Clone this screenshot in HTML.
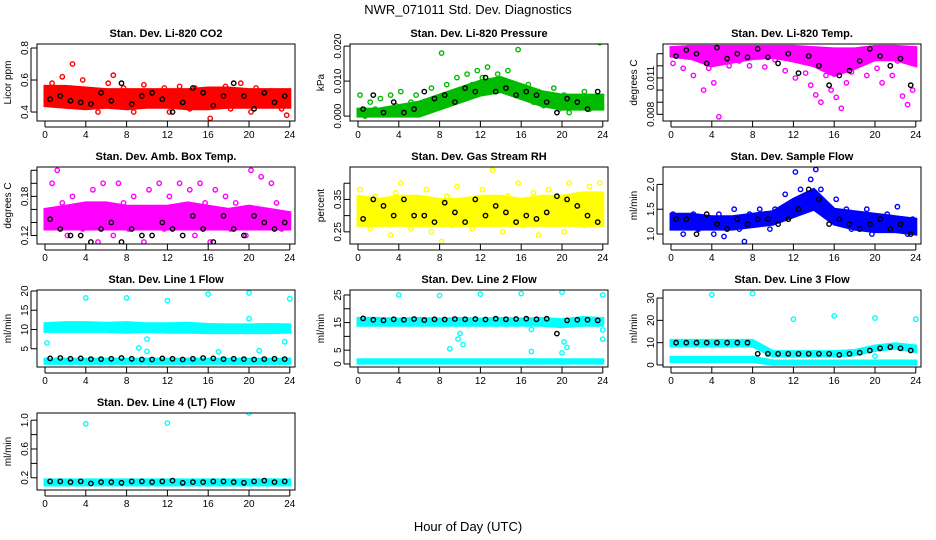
<!DOCTYPE html>
<html><head><meta charset="utf-8"><style>
body{margin:0;background:#fff;}
svg{display:block;font-family:"Liberation Sans",sans-serif;}
</style></head><body>
<svg id="chart" width="936" height="540" viewBox="0 0 936 540">
<rect width="936" height="540" fill="#fff"/>
<text x="468" y="14" text-anchor="middle" font-size="13">NWR_071011  Std. Dev. Diagnostics</text>
<text x="468" y="531" text-anchor="middle" font-size="13">Hour of Day (UTC)</text>
</svg>
<script>
const hourTicks = [0,4,8,12,16,20,24];

const co2Vals = [0.55,0.58,0.84,0.62,0.48,0.7,0.45,0.6,0.5,0.47,0.4,0.52,0.58,0.63,0.45,0.55,0.5,0.4,0.48,0.57,0.44,0.52,0.46,0.55,0.4,0.5,0.56,0.46,0.42,0.55,0.52,0.47,0.36,0.53,0.45,0.56,0.42,0.5,0.58,0.44,0.4,0.55,0.48,0.44,0.53,0.5,0.42,0.38];
const co2Black = [0.48,0.5,0.47,0.46,0.45,0.52,0.47,0.58,0.45,0.5,0.52,0.48,0.4,0.46,0.55,0.52,0.44,0.5,0.58,0.5,0.42,0.52,0.46,0.5];
const co2Lo = [0.44,0.43,0.42,0.43,0.42,0.43,0.43,0.42,0.42,0.43,0.43,0.43,0.43];
const co2Hi = [0.56,0.56,0.55,0.54,0.54,0.54,0.54,0.54,0.55,0.55,0.54,0.54,0.54];

const presVals = [0.006,0,0.004,0.002,0.005,0.001,0.006,0.003,0.007,0.002,0.004,0.006,0.001,0.003,0.008,0.004,0.018,0.009,0.005,0.011,0.007,0.012,0.009,0.013,0.011,0.014,0.008,0.012,0.010,0.013,0.007,0.019,0.006,0.009,0.004,0.007,0.003,0.005,0.008,0.002,0.006,0.001,0.005,0.004,0.007,0.002,0.005,0.021];
const presBlack = [0.002,0.006,0.001,0.004,0.001,0.002,0.007,0.005,0.006,0.004,0.008,0.007,0.011,0.007,0.008,0.006,0.007,0.006,0.004,0.001,0.005,0.004,0.002,0.007];
const presLo = [0,0,0,0,0.002,0.004,0.006,0.007,0.005,0.003,0.002,0.002,0.002];
const presHi = [0.002,0.002,0.003,0.004,0.006,0.008,0.010,0.011,0.009,0.007,0.006,0.006,0.006];

const tempVals = [0.0122,0.0132,0.0118,0.0135,0.0112,0.0128,0.0100,0.0118,0.0106,0.0078,0.0127,0.0120,0.0132,0.0124,0.0130,0.0120,0.0128,0.0133,0.0119,0.0130,0.0125,0.0133,0.0116,0.0128,0.0110,0.0125,0.0114,0.0104,0.0096,0.0090,0.0112,0.0100,0.0094,0.0085,0.0106,0.0115,0.0125,0.0132,0.0112,0.0130,0.0118,0.0106,0.0128,0.0112,0.0124,0.0095,0.0088,0.0100];
const tempBlack = [0.0128,0.0133,0.0130,0.0122,0.0135,0.0126,0.0130,0.0127,0.0134,0.0127,0.0122,0.0130,0.0114,0.0128,0.0120,0.0104,0.0112,0.0116,0.0124,0.0134,0.0128,0.0120,0.0126,0.0104];
const tempLo = [0.0128,0.0126,0.0120,0.0123,0.0126,0.0127,0.0124,0.0120,0.0112,0.0118,0.0125,0.0125,0.0120];
const tempHi = [0.0135,0.0136,0.0136,0.0136,0.0136,0.0136,0.0136,0.0135,0.0134,0.0134,0.0136,0.0136,0.0135];

const boxVals = [0.14,0.2,0.22,0.17,0.12,0.18,0.15,0.13,0.16,0.19,0.11,0.2,0.15,0.12,0.2,0.17,0.13,0.18,0.16,0.11,0.19,0.15,0.2,0.13,0.18,0.16,0.2,0.14,0.19,0.12,0.2,0.17,0.11,0.19,0.15,0.18,0.13,0.17,0.15,0.12,0.22,0.16,0.21,0.14,0.2,0.17,0.13,0.15];
const boxBlack = [0.145,0.13,0.12,0.12,0.11,0.13,0.14,0.11,0.13,0.12,0.12,0.14,0.13,0.12,0.15,0.13,0.11,0.15,0.13,0.12,0.15,0.14,0.13,0.14];
const boxLo = [0.13,0.13,0.13,0.13,0.13,0.13,0.13,0.13,0.13,0.13,0.13,0.13,0.13];
const boxHi = [0.16,0.165,0.17,0.17,0.165,0.165,0.165,0.17,0.165,0.16,0.165,0.16,0.155];

const rhVals = [0.38,0.3,0.26,0.36,0.28,0.33,0.24,0.37,0.4,0.3,0.26,0.35,0.29,0.38,0.25,0.32,0.22,0.36,0.27,0.39,0.3,0.34,0.26,0.33,0.38,0.28,0.44,0.31,0.25,0.36,0.29,0.4,0.27,0.33,0.37,0.24,0.31,0.38,0.28,0.35,0.25,0.4,0.3,0.34,0.27,0.39,0.33,0.4];
const rhBlack = [0.29,0.35,0.33,0.3,0.35,0.3,0.3,0.28,0.34,0.31,0.28,0.35,0.3,0.33,0.31,0.28,0.3,0.29,0.31,0.36,0.35,0.33,0.3,0.28];
const rhLo = [0.27,0.27,0.27,0.27,0.27,0.27,0.27,0.27,0.27,0.27,0.27,0.27,0.27];
const rhHi = [0.36,0.35,0.36,0.36,0.35,0.35,0.36,0.36,0.35,0.36,0.36,0.37,0.37];

const flowVals = [1.4,1.2,1.0,1.3,1.4,1.1,1.3,1.2,1.0,1.4,0.95,1.3,1.5,1.1,0.85,1.4,1.2,1.5,1.3,1.1,1.5,1.4,1.8,1.6,2.25,1.9,1.7,2.1,2.3,1.9,1.6,1.4,1.7,1.3,1.5,1.1,1.4,1.2,1.5,1.0,1.3,1.1,1.4,1.2,1.55,1.1,1.0,1.3];
const flowBlack = [1.3,1.3,1.0,1.4,1.2,1.1,1.3,1.2,1.3,1.3,1.2,1.3,1.5,1.9,1.7,1.2,1.3,1.2,1.1,1.2,1.3,1.1,1.2,1.0];
const flowLo = [1.1,1.1,1.1,1.1,1.15,1.2,1.35,1.5,1.2,1.1,1.05,1.05,1.0];
const flowHi = [1.4,1.4,1.35,1.35,1.4,1.45,1.7,1.9,1.5,1.45,1.4,1.35,1.3];

const l1Lo = [9.5,9.5,9.5,9.5,9.3,9.5,9.3,9.3,9.2,9.2,9.2,9.2,9.3];
const l1Hi = [11.5,11.8,11.8,11.6,11.8,11.5,11.5,11.6,11.3,11.2,11.2,11.3,11.2];
const l1Lo2 = [1.2,1.2,1.2,1.2,1.2,1.2,1.2,1.2,1.2,1.2,1.2,1.2,1.2];
const l1Hi2 = [2.3,2.3,2.3,2.3,2.3,2.3,2.3,2.3,2.3,2.3,2.3,2.3,2.3];
const l1Black = [2.5,2.6,2.4,2.5,2.3,2.3,2.4,2.6,2.4,2.2,2.2,2.5,2.4,2.2,2.4,2.6,2.5,2.3,2.4,2.3,2.2,2.3,2.4,2.3];
const l1OutX = [4,8,12,16,20,24,0.2,9.2,10,17,21,23.5,20,10];
const l1OutY = [18.2,18.2,17.5,19.2,19.5,18,6.5,5.2,4.3,4.2,4.5,6.8,12.8,7.5];

const l2Lo = [14,14,14,14,14,14,14,14,14,14,13.5,14,14];
const l2Hi = [16.5,16.5,16.3,16.5,16.3,16.5,16.3,16.5,16.3,16.5,16,16.8,16.5];
const l2Lo2 = [0.3,0.3,0.3,0.3,0.3,0.3,0.3,0.3,0.3,0.3,0.3,0.3,0.3];
const l2Hi2 = [1.5,1.5,1.5,1.5,1.5,1.5,1.5,1.5,1.5,1.5,1.5,1.5,1.5];
const l2Black = [16.5,16,15.8,16.2,16,16.3,15.9,16.2,16.1,16.3,16.2,16.3,16.1,16.4,16.2,16.3,16.4,16.2,16.4,11,15.8,16,16,15.8];
const l2OutX = [4,8,12,16,20,24,9,9.8,10,10.3,17,17,20.2,20.5,24,20,24];
const l2OutY = [25,24.8,25.3,25.5,26,25,5.5,9,11,7,4.5,12.5,8,6,12.3,4,9];

const l3Lo = [8.5,8.5,8.5,8.5,8.5,4,4,4,4,4.5,6.5,7.5,6];
const l3Hi = [11,11,11,11,11,6,6,6,6,6.5,8.5,9.5,8.5];
const l3Lo2 = [1.5,1.5,1.5,1.5,1.5,0.3,0.3,0.3,0.3,0.3,0.3,0.3,0.3];
const l3Hi2 = [3.5,3.5,3.5,3.5,3.5,1.8,1.8,1.8,1.8,1.8,1.8,1.8,1.8];
const l3Black = [10,10,10,10,10,10,10,10,5,5,5,5,5,5,5,5,4.5,5,5.5,6.5,7.5,8,7.5,6.5];
const l3OutX = [4,8,12,16,20,24,20];
const l3OutY = [31.5,32,20.5,22,21,20.5,4];

const l4Lo = [0.1,0.1,0.1,0.1,0.1,0.1,0.1,0.1,0.1,0.1,0.1,0.1,0.1];
const l4Hi = [0.17,0.17,0.17,0.17,0.17,0.17,0.17,0.17,0.17,0.17,0.17,0.17,0.17];
const l4Black = [0.15,0.15,0.14,0.15,0.12,0.14,0.14,0.13,0.15,0.15,0.14,0.15,0.16,0.13,0.14,0.14,0.15,0.15,0.14,0.13,0.15,0.16,0.14,0.15];
const l4OutX = [4,12,20];
const l4OutY = [0.95,0.96,1.1];

const panels = [
 {name:'co2',title:'Stan. Dev. Li-820 CO2',yl:'Licor ppm',col:'#ff0000',r:0,c:0,top:0.825,bot:0.344,ticks:[0.4,0.6,0.8],labs:['0.4','0.6','0.8'],vals:co2Vals,black:co2Black,lo:co2Lo,hi:co2Hi},
 {name:'pressure',title:'Stan. Dev. Li-820 Pressure',yl:'kPa',col:'#00bb00',r:0,c:1,top:0.0206,bot:-0.0014,ticks:[0,0.01,0.02],labs:['0.000','0.010','0.020'],vals:presVals,black:presBlack,lo:presLo,hi:presHi},
 {name:'temp',title:'Stan. Dev. Li-820 Temp.',yl:'degrees C',col:'#ff00ff',r:0,c:2,top:0.0138,bot:0.00745,ticks:[0.008,0.009,0.010,0.011,0.012,0.013],labs:['0.008','','','0.011','',''],vals:tempVals,black:tempBlack,lo:tempLo,hi:tempHi},
 {name:'box-temp',title:'Stan. Dev. Amb. Box Temp.',yl:'degrees C',col:'#ff00ff',r:1,c:0,top:0.225,bot:0.107,ticks:[0.12,0.14,0.16,0.18,0.20,0.22],labs:['0.12','','','0.18','',''],vals:boxVals,black:boxBlack,lo:boxLo,hi:boxHi},
 {name:'rh',title:'Stan. Dev. Gas Stream RH',yl:'percent',col:'#ffff00',r:1,c:1,top:0.45,bot:0.2125,ticks:[0.25,0.30,0.35,0.40],labs:['0.25','','0.35',''],vals:rhVals,black:rhBlack,lo:rhLo,hi:rhHi},
 {name:'sample-flow',title:'Stan. Dev. Sample Flow',yl:'ml/min',col:'#0000ff',r:1,c:2,top:2.35,bot:0.8,ticks:[1.0,1.5,2.0],labs:['1.0','1.5','2.0'],vals:flowVals,black:flowBlack,lo:flowLo,hi:flowHi},
 {name:'line1',title:'Stan. Dev. Line 1 Flow',yl:'ml/min',col:'#00ffff',r:2,c:0,top:20.26,bot:0.26,ticks:[5,10,15,20],labs:['5','10','15','20'],black:l1Black,lo:l1Lo,hi:l1Hi,lo2:l1Lo2,hi2:l1Hi2,ox:l1OutX,oy:l1OutY},
 {name:'line2',title:'Stan. Dev. Line 2 Flow',yl:'ml/min',col:'#00ffff',r:2,c:1,top:26.8,bot:-1.1,ticks:[0,5,10,15,20,25],labs:['0','5','','15','','25'],black:l2Black,lo:l2Lo,hi:l2Hi,lo2:l2Lo2,hi2:l2Hi2,ox:l2OutX,oy:l2OutY},
 {name:'line3',title:'Stan. Dev. Line 3 Flow',yl:'ml/min',col:'#00ffff',r:2,c:2,top:33.6,bot:-0.9,ticks:[0,10,20,30],labs:['0','10','20','30'],black:l3Black,lo:l3Lo,hi:l3Hi,lo2:l3Lo2,hi2:l3Hi2,ox:l3OutX,oy:l3OutY},
 {name:'line4',title:'Stan. Dev. Line 4 (LT) Flow',yl:'ml/min',col:'#00ffff',r:3,c:0,top:1.1,bot:0.03,ticks:[0.2,0.4,0.6,0.8,1.0],labs:['0.2','','0.6','','1.0'],black:l4Black,lo:l4Lo,hi:l4Hi,ox:l4OutX,oy:l4OutY}
];

const svg = document.getElementById('chart');
const NS = 'http://www.w3.org/2000/svg';
function mk(tag, attrs, parent){const e=document.createElementNS(NS,tag);for(const k in attrs)e.setAttribute(k,attrs[k]);parent.appendChild(e);return e;}

panels.forEach(p=>{
  const L = 37 + p.c*313, T = 44 + p.r*123, W = 258, H = 77;
  const g = mk('g',{},svg);
  
  
  const xs = h => L + 8 + h*10.2;
  const ys = v => T + (p.top - v)/(p.top - p.bot)*H;
  const clip = mk('clipPath',{id:'cl'+p.name},g);
  mk('rect',{x:L,y:T,width:W,height:H},clip);
  const plot = mk('g',{'clip-path':'url(#cl'+p.name+')'},g);
  
  
  function band(lo,hi,nm){
    let pts=[];
    lo.forEach((v,i)=>pts.push(xs(i*2).toFixed(1)+','+ys(v).toFixed(1)));
    for(let i=hi.length-1;i>=0;i--) pts.push(xs(i*2).toFixed(1)+','+ys(hi[i]).toFixed(1));
    const b = mk('polygon',{points:pts.join(' '),fill:p.col,stroke:p.col,'stroke-width':3},plot);
    
    
  }
  band(p.lo,p.hi,'dense-band-'+p.name);
  if(p.lo2) band(p.lo2,p.hi2,'lower-band-'+p.name);
  function pt(h,v,color,nm){
    const c = mk('circle',{cx:xs(h).toFixed(1),cy:ys(v).toFixed(1),r:2.2,fill:'none',stroke:color,'stroke-width':1.4},plot);
    
    
  }
  if(p.vals) p.vals.forEach((v,i)=>pt(i*0.5+0.2,v,p.col,'point-'+p.name));
  if(p.ox) p.ox.forEach((h,i)=>pt(h,p.oy[i],p.col,'outlier-'+p.name));
  p.black.forEach((v,i)=>pt(i+0.5,v,'#000','black-point-'+p.name));
  const box = mk('rect',{x:L,y:T,width:W,height:H,fill:'none',stroke:'#000','stroke-width':1},g);
  
  
  const t = mk('text',{x:L+W/2,y:T-7,'text-anchor':'middle','font-size':11,'font-weight':'bold'},g);
  t.textContent = p.title;
  
  
  const yl = mk('text',{x:0,y:0,'text-anchor':'middle','font-size':10,transform:`translate(${L-26},${T+H/2}) rotate(-90)`},g);
  yl.textContent = p.yl;
  
  
  hourTicks.forEach(h=>{
    mk('line',{x1:xs(h),x2:xs(h),y1:T+H,y2:T+H+6,stroke:'#000'},g);
    const tl = mk('text',{x:xs(h),y:T+H+17,'text-anchor':'middle','font-size':10},g);
    tl.textContent = h;
    
    
  });
  mk('line',{x1:xs(0),x2:xs(24),y1:T+H+6,y2:T+H+6,stroke:'#000'},g);
  p.ticks.forEach((v,i)=>{
    mk('line',{x1:L-6,x2:L,y1:ys(v),y2:ys(v),stroke:'#000'},g);
    if(p.labs[i]){
      const tl = mk('text',{x:0,y:0,'text-anchor':'middle','font-size':10,transform:`translate(${L-9},${ys(v)}) rotate(-90)`},g);
      tl.textContent = p.labs[i];
      
      
    }
  });
  mk('line',{x1:L-6,x2:L-6,y1:ys(p.ticks[0]),y2:ys(p.ticks[p.ticks.length-1]),stroke:'#000'},g);
});
</script>
</body></html>
